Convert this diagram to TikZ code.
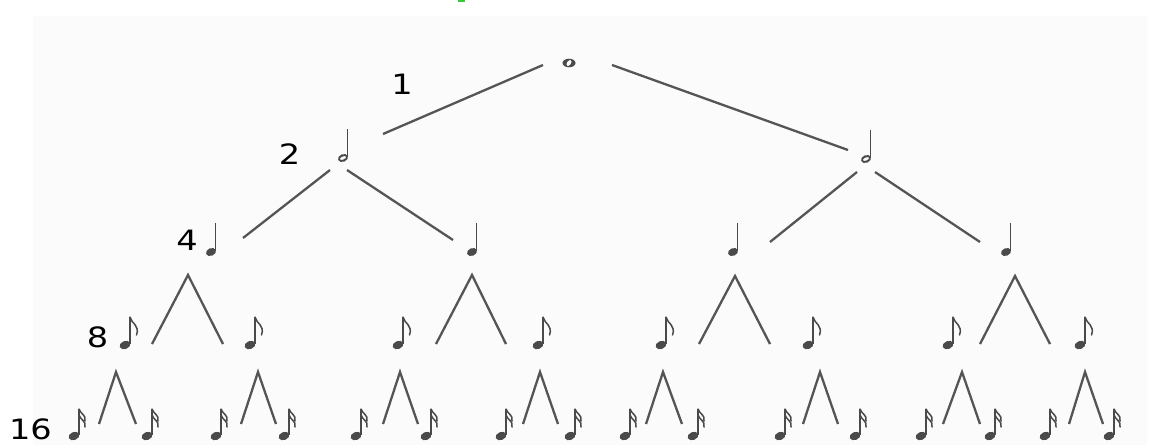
\documentclass[tikz,border=0pt]{standalone}
\usepackage{fontspec}
\usepackage{graphicx}
\newfontfamily\labfont{DejaVu Sans}
\definecolor{notecol}{HTML}{4A4A4A}
\definecolor{linecol}{HTML}{555555}
\definecolor{scan}{HTML}{FBFBFB}
\definecolor{greenmark}{HTML}{33CC33}
\tikzset{
  conn/.style={draw=linecol, line width=2.3pt},
  lab/.style={font=\labfont\fontsize{28}{28}\selectfont, inner sep=0pt, text=black},
  stem/.style={draw=notecol, line width=1.3pt},
  flag/.style={draw=notecol, line width=1.5pt, line cap=round},
  whole/.pic={
    \fill[notecol, even odd rule] (0,0) ellipse [x radius=6.5pt, y radius=4.3pt]
          (0,0) ellipse [x radius=2.1pt, y radius=3.4pt, rotate=-35];
  },
  half/.pic={
    \fill[notecol, even odd rule] (0,0) ellipse [x radius=5.2pt, y radius=3.8pt, rotate=22]
          (0,0) ellipse [x radius=3.4pt, y radius=1.6pt, rotate=22];
    \draw[stem] (4.8,-1) -- (4.8,-29);
  },
  quarter/.pic={
    \fill[notecol] (0,0) ellipse [x radius=5.2pt, y radius=3.8pt, rotate=22];
    \draw[stem] (4.8,-1) -- (4.8,-29);
  },
  eighth/.pic={
    \fill[notecol] (0,0) ellipse [x radius=5.6pt, y radius=4pt, rotate=22];
    \draw[stem] (5,-1) -- (5,-28);
    \draw[flag] (5,-28) .. controls (6.5,-21) and (15,-20) .. (11.5,-10);
  },
  sixteenth/.pic={
    \fill[notecol] (0,0) ellipse [x radius=5.6pt, y radius=4pt, rotate=22];
    \draw[stem] (5,-1) -- (5,-27);
    \draw[flag] (5,-27) .. controls (6.5,-22) and (12.5,-21) .. (11,-15);
    \draw[flag] (5,-21) .. controls (6.5,-16) and (12.5,-15) .. (11,-9);
  }
}
\begin{document}
\begin{tikzpicture}[x=1pt, y=-1pt]
\useasboundingbox (0,0) rectangle (1155,445);
\fill[white] (0,0) rectangle (1155,445);
\fill[scan] (33,16) rectangle (1147,445);
\fill[greenmark] (458,0) rectangle (465,2);

% level 1 and 2
\pic (w) at (569,63) {whole};
\pic (hl) at (343,158) {half};
\pic (hr) at (866,159) {half};

\coordinate (r1s) at (543,65);  \coordinate (r1e) at (383,134);
\coordinate (r2s) at (612,65);  \coordinate (r2e) at (848,150);
\draw[conn] (r1s) -- (r1e);
\draw[conn] (r2s) -- (r2e);

\coordinate (a1s) at (330,170); \coordinate (a1e) at (243,238);
\coordinate (a2s) at (347,170); \coordinate (a2e) at (453,240);
\coordinate (b1s) at (857,172); \coordinate (b1e) at (770,242);
\coordinate (b2s) at (875,172); \coordinate (b2e) at (980,242);
\draw[conn] (a1s) -- (a1e);
\draw[conn] (a2s) -- (a2e);
\draw[conn] (b1s) -- (b1e);
\draw[conn] (b2s) -- (b2e);

% quarters
\foreach \i/\x in {1/211,2/472,3/733,4/1006}
  \pic (q\i) at (\x,252) {quarter};

% eighth-level lambdas
\foreach \i/\a/\l/\r/\ay in {1/188/152/223/275, 2/472/436/506/275, 3/735/699/770/276, 4/1015/980/1050/276}{
  \coordinate (p\i) at (\a,\ay);
  \coordinate (pl\i) at (\l,344);
  \coordinate (pr\i) at (\r,344);
  \draw[conn] (pl\i) -- (p\i) -- (pr\i);
}

% eighths
\foreach \i/\x in {1/125,2/250,3/398,4/538,5/661,6/808,7/948,8/1080}
  \pic (e\i) at (\x,345) {eighth};

% sixteenth-level lambdas
\foreach \i/\a/\l/\r in {1/116/99/136, 2/258/241/276, 3/400/383/418, 4/540/523/558, 5/663/646/682, 6/820/803/838, 7/962/943/980, 8/1085/1069/1103}{
  \coordinate (s\i) at (\a,372);
  \coordinate (sl\i) at (\l,424);
  \coordinate (sr\i) at (\r,424);
  \draw[conn] (sl\i) -- (s\i) -- (sr\i);
}

% sixteenths
\foreach \i/\x/\y in {1/74/147, 2/216/284, 3/356/426, 4/501/570, 5/625/693, 6/780/855, 7/921/990, 8/1045/1109}{
  \pic (xl\i) at (\x,436) {sixteenth};
  \pic (xr\i) at (\y,436) {sixteenth};
}

% labels
\node[lab] (L1) at (402,84) {\scalebox{1.2}[1]{1}};
\node[lab] (L2) at (289.5,154.5) {\scalebox{1.2}[1]{2}};
\node[lab] (L4) at (187,240) {\scalebox{1.2}[1]{4}};
\node[lab] (L8) at (97.5,337) {\scalebox{1.2}[1]{8}};
\node[lab] (L16) at (30.5,429) {\scalebox{1.2}[1]{16}};
\end{tikzpicture}
\end{document}
